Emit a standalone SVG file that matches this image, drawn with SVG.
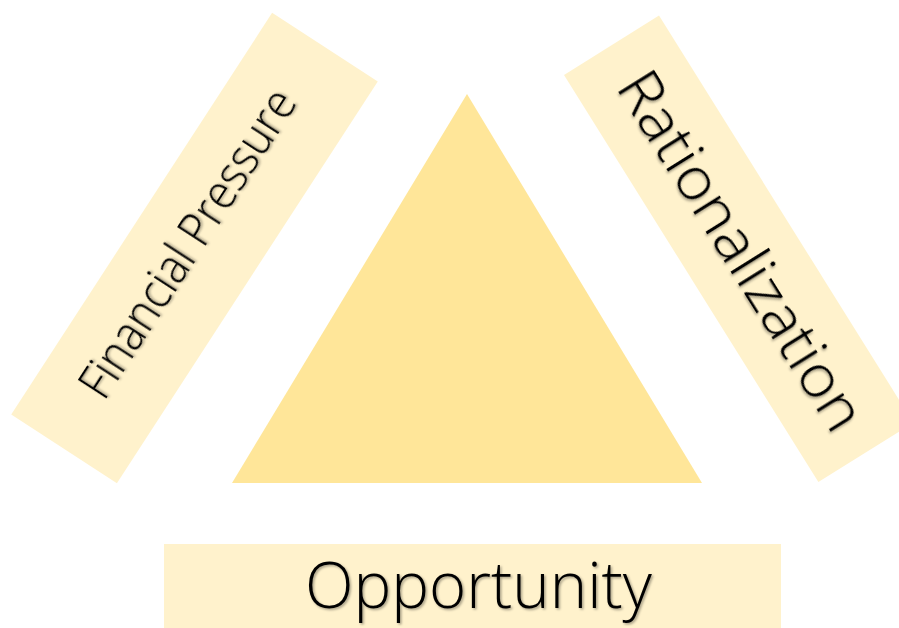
<svg xmlns="http://www.w3.org/2000/svg" width="899" height="628" viewBox="0 0 899 628">
  <defs>
    <filter id="shadow" x="-10%" y="-30%" width="120%" height="160%">
      <feDropShadow dx="1.5" dy="1.5" stdDeviation="1.2" flood-color="#000000" flood-opacity="0.35"/>
    </filter>
  </defs>
  <style>
    .band { fill: #FFF2CC; }
    .tri { fill: #FFE699; }
    .label { font-family: "Segoe UI", "Open Sans", "Noto Sans", "Liberation Sans", sans-serif; font-weight: 300; fill: #000000; filter: url(#shadow); }
  </style>
  <rect width="899" height="628" fill="#FFFFFF"/>
  <g id="triangle">
    <polygon class="tri" points="467,94 232,483 702,483"/>
  </g>
  <g id="financial-pressure" transform="translate(194.5,248) rotate(-57)">
    <rect class="band" x="-239.5" y="-63" width="479" height="126"/>
    <text class="label" x="0" y="8" font-size="47" text-anchor="middle" textLength="357" lengthAdjust="spacingAndGlyphs">Financial Pressure</text>
  </g>
  <g id="rationalization" transform="translate(738.7,248.8) rotate(58)">
    <rect class="band" x="-240" y="-56" width="480" height="112"/>
    <text class="label" x="3" y="19" font-size="59" text-anchor="middle" textLength="412" lengthAdjust="spacingAndGlyphs">Rationalization</text>
  </g>
  <g id="opportunity">
    <rect class="band" x="164" y="544" width="617" height="84"/>
    <text class="label" x="478.5" y="608" font-size="65" text-anchor="middle" textLength="347" lengthAdjust="spacingAndGlyphs">Opportunity</text>
  </g>
  <g id="connectors"/>
</svg>
